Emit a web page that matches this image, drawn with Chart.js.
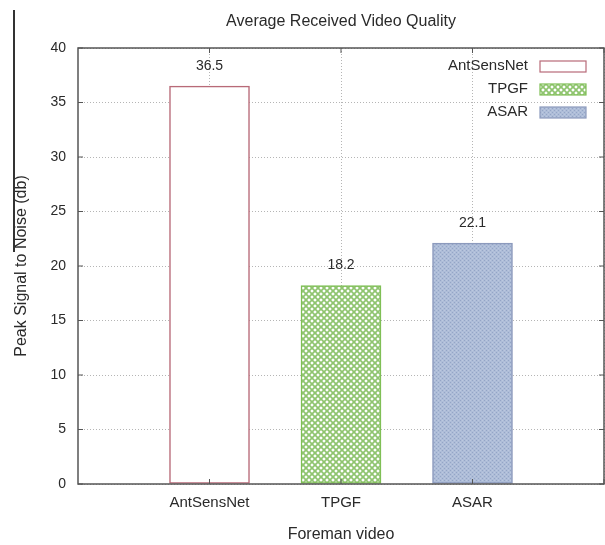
<!DOCTYPE html>
<html>
<head>
<meta charset="utf-8">
<script src="https://cdn.jsdelivr.net/npm/chart.js@4/dist/chart.umd.min.js"></script>
<style>
html,body{margin:0;padding:0;background:#fff;}
#wrap{width:605px;height:545px;position:relative;}
</style>
</head>
<body>
<div id="wrap"><canvas id="c" width="605" height="545"></canvas></div>
<script>
const categories = ['AntSensNet', 'TPGF', 'ASAR'];
const values = [36.5, 18.2, 22.1];
const yTickValues = [0, 5, 10, 15, 20, 25, 30, 35, 40];
const xTickValues = [0, 1, 2, 3];
const chartTitle = 'Average Received Video Quality';
const xTitle = 'Foreman video';
const yTitle = 'Peak Signal to Noise (db)';

const FONT = "'Liberation Sans', Arial, sans-serif";
const TEXT = '#2a2a2a';

function makePattern(w, h, draw) {
  const c = document.createElement('canvas');
  c.width = w; c.height = h;
  const g = c.getContext('2d');
  draw(g, w, h);
  return document.getElementById('c').getContext('2d').createPattern(c, 'repeat');
}
const greenPat = makePattern(6, 6, (g, w, h) => {
  g.fillStyle = '#ffffff'; g.fillRect(0, 0, w, h);
  g.strokeStyle = '#8fc46f'; g.lineWidth = 1.7;
  g.beginPath();
  for (let k = -2; k <= 2; k++) {
    g.moveTo(k * w, 0); g.lineTo(k * w + w, h);
    g.moveTo(k * w + w, 0); g.lineTo(k * w, h);
  }
  g.stroke();
});
const bluePat = makePattern(4, 4, (g, w, h) => {
  g.fillStyle = '#aebdd8'; g.fillRect(0, 0, w, h);
  g.fillStyle = '#94a5c6'; g.fillRect(0, 0, 1, 1); g.fillRect(2, 2, 1, 1);
  g.fillStyle = '#bcc8df'; g.fillRect(2, 0, 1, 1); g.fillRect(0, 2, 1, 1);
});

const fills = ['#ffffff', greenPat, bluePat];
const borders = ['#b86a78', '#7fbf55', '#8c9abd'];

const datasets = categories.map((name, i) => ({
  label: name,
  data: [{ x: i, y: values[i] }],
  backgroundColor: fills[i],
  borderColor: borders[i],
  borderWidth: 1.5,
  borderSkipped: false,
  barThickness: 80,
  grouped: false
}));

const decor = {
  id: 'decor',
  afterDatasetsDraw(chart) {
    const ctx = chart.ctx;
    const a = chart.chartArea;
    const xs = chart.scales.x, ys = chart.scales.y;
    ctx.save();
    // frame
    ctx.strokeStyle = '#555';
    ctx.lineWidth = 1.5;
    ctx.strokeRect(a.left, a.top, a.right - a.left, a.bottom - a.top);
    // inward ticks
    ctx.lineWidth = 1;
    ctx.beginPath();
    yTickValues.forEach(v => {
      const y = ys.getPixelForValue(v);
      ctx.moveTo(a.left, y); ctx.lineTo(a.left + 5, y);
      ctx.moveTo(a.right, y); ctx.lineTo(a.right - 5, y);
    });
    xTickValues.forEach(v => {
      const x = xs.getPixelForValue(v);
      ctx.moveTo(x, a.bottom); ctx.lineTo(x, a.bottom - 5);
      ctx.moveTo(x, a.top); ctx.lineTo(x, a.top + 5);
    });
    ctx.stroke();
    // value labels
    ctx.fillStyle = TEXT;
    ctx.font = '14px ' + FONT;
    ctx.textAlign = 'center';
    ctx.textBaseline = 'bottom';
    chart.data.datasets.forEach((ds, i) => {
      const meta = chart.getDatasetMeta(i);
      meta.data.forEach((bar, j) => {
        ctx.fillText(String(ds.data[j].y), bar.x, bar.y - 13);
      });
    });
    // title
    ctx.textBaseline = 'middle';
    ctx.font = '16px ' + FONT;
    ctx.fillText(chartTitle, (a.left + a.right) / 2, 22);
    // legend
    ctx.font = '15px ' + FONT;
    const rows = [66, 89, 112];
    chart.data.datasets.forEach((ds, i) => {
      const y = rows[i];
      ctx.textAlign = 'right';
      ctx.fillStyle = TEXT;
      ctx.fillText(ds.label, 528, y);
      ctx.fillStyle = ds.backgroundColor;
      ctx.fillRect(540, y - 5, 46, 11);
      ctx.strokeStyle = ds.borderColor;
      ctx.lineWidth = 1.2;
      ctx.strokeRect(540, y - 5, 46, 11);
    });
    // left edge artifact line
    ctx.strokeStyle = '#333';
    ctx.lineWidth = 2;
    ctx.beginPath();
    ctx.moveTo(14, 10); ctx.lineTo(14, 252);
    ctx.stroke();
    ctx.restore();
  }
};

new Chart(document.getElementById('c'), {
  type: 'bar',
  data: { datasets },
  options: {
    responsive: false,
    animation: false,
    layout: { padding: { top: 48, right: 1, left: 0, bottom: 0 } },
    plugins: {
      legend: { display: false },
      tooltip: { enabled: false },
      title: { display: false }
    },
    scales: {
      x: {
        type: 'linear',
        min: -1,
        max: 3,
        offset: false,
        afterBuildTicks: s => { s.ticks = xTickValues.map(v => ({ value: v })); },
        afterFit: s => { s.height = 61; s.paddingRight = 0; s.paddingLeft = 0; },
        grid: { color: '#b5b5b5', lineWidth: 1, drawTicks: false, offset: false },
        border: { display: false, dash: [1, 2] },
        ticks: {
          padding: 10,
          color: TEXT,
          font: { family: FONT, size: 15 },
          maxRotation: 0,
          autoSkip: false,
          callback: v => categories[v] ?? ''
        },
        title: {
          display: true,
          text: xTitle,
          color: TEXT,
          font: { family: FONT, size: 16 },
          padding: { top: 4, bottom: 1 }
        }
      },
      y: {
        min: 0,
        max: 40,
        afterBuildTicks: s => { s.ticks = yTickValues.map(v => ({ value: v })); },
        afterFit: s => { s.width = 78; },
        grid: { color: '#b5b5b5', lineWidth: 1, drawTicks: false },
        border: { display: false, dash: [1, 2] },
        ticks: {
          padding: 12,
          color: TEXT,
          font: { family: FONT, size: 14 }
        },
        title: {
          display: true,
          text: yTitle,
          color: TEXT,
          font: { family: FONT, size: 16 },
          padding: { top: 12, bottom: 0 }
        }
      }
    }
  },
  plugins: [decor]
});
</script>
</body>
</html>
